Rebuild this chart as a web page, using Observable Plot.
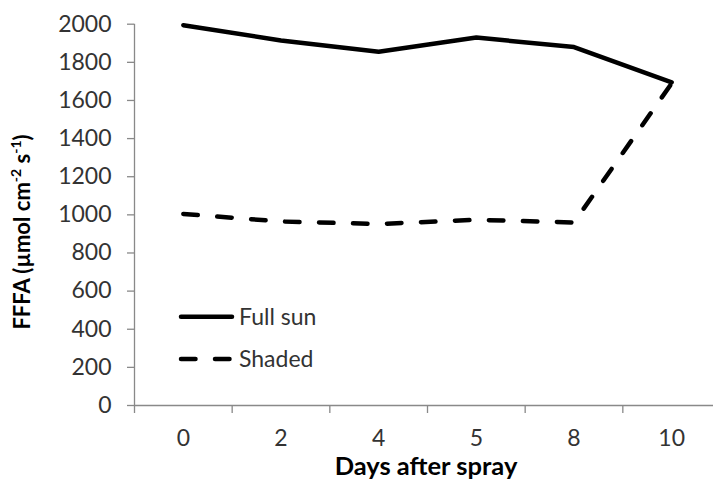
<!DOCTYPE html>
<html><head><meta charset="utf-8">
<script src="https://cdn.jsdelivr.net/npm/d3@7"></script>
<script src="https://cdn.jsdelivr.net/npm/@observablehq/plot@0.6"></script>
<style>
body{margin:0;background:#fff}
#chart{width:713px;height:486px;overflow:hidden;position:relative}
</style>
</head><body><div id="chart"></div>
<script>
const days = ["0", "2", "4", "5", "8", "10"];
const fullSun = [1995, 1915, 1855, 1930, 1880, 1695];
const shaded = [1005, 965, 952, 974, 960, 1690];
const yTicks = [0, 200, 400, 600, 800, 1000, 1200, 1400, 1600, 1800, 2000];
const seriesNames = ["Full sun", "Shaded"];

const idx = days.map((d, i) => i);
const bounds = [-0.5, ...idx.map(i => i + 0.5)];
const rowsSun = fullSun.map((v, i) => ({series: seriesNames[0], i, value: v}));
const rowsShade = shaded.map((v, i) => ({series: seriesNames[1], i, value: v}));

const axisColor = "#898989";
const textColor = "#333";
const FONT = "Lato";
const DASH = "14.5,19.5";

const plot = Plot.plot({
  width: 713, height: 486,
  marginLeft: 134, marginRight: 0, marginTop: 24, marginBottom: 81,
  style: {fontFamily: FONT, fontSize: "23px", background: "#fff", color: textColor},
  x: {domain: [-0.5, 5.5], range: [134, 720]},
  y: {domain: [0, 2000], range: [405, 23.7]},
  marks: [
    Plot.axisY({ticks: yTicks, tickSize: 7, tickPadding: 16, stroke: axisColor, fill: textColor, strokeWidth: 1.3, tickFormat: d => String(d), label: null}),
    Plot.axisX({ticks: bounds, tickSize: 8, stroke: axisColor, strokeWidth: 1.3, tickFormat: () => "", label: null}),
    Plot.axisX({ticks: idx, tickSize: 0, tickPadding: 24, tickFormat: i => days[i], fill: textColor, label: null}),
    Plot.ruleX([-0.5], {y1: 0, y2: 2000, stroke: axisColor, strokeWidth: 1.3}),
    Plot.ruleY([0], {x1: -0.5, x2: 5.5, stroke: axisColor, strokeWidth: 1.3}),
    Plot.line(rowsSun, {x: "i", y: "value", stroke: "#000", strokeWidth: 4.5, strokeLinecap: "round", strokeLinejoin: "round"}),
    Plot.line(rowsShade, {x: "i", y: "value", stroke: "#000", strokeWidth: 4.5, strokeLinecap: "round", strokeLinejoin: "round", strokeDasharray: DASH})
  ]
});
document.getElementById("chart").appendChild(plot);

const svg = d3.select(plot);
// Y axis title
const yt = svg.append("text")
  .attr("transform", "translate(30,232) rotate(-90)")
  .attr("text-anchor", "middle")
  .attr("font-family", FONT).attr("font-weight", "bold").attr("font-size", 22)
  .attr("fill", "#000");
yt.append("tspan").text("FFFA (µmol cm");
yt.append("tspan").text("-2").attr("font-size", 14).attr("dy", -9);
yt.append("tspan").text(" s").attr("dy", 9);
yt.append("tspan").text("-1").attr("font-size", 14).attr("dy", -9);
yt.append("tspan").text(")").attr("dy", 9);
// X axis title
svg.append("text")
  .attr("x", 426).attr("y", 475)
  .attr("text-anchor", "middle")
  .attr("font-family", FONT).attr("font-weight", "bold").attr("font-size", 25.5)
  .attr("fill", "#000").text("Days after spray");
// Legend
const leg = svg.append("g");
[[seriesNames[0], null, 316.7], [seriesNames[1], DASH, 359]].forEach(([name, dash, y]) => {
  const l = leg.append("line").attr("x1", 181).attr("x2", 232).attr("y1", y).attr("y2", y)
    .attr("stroke", "#000").attr("stroke-width", 4.5).attr("stroke-linecap", "round");
  if (dash) l.attr("stroke-dasharray", dash);
  leg.append("text").attr("x", 239).attr("y", y + 8.3).attr("text-anchor", "start")
    .attr("font-family", FONT).attr("font-size", 23).attr("fill", textColor).text(name);
});
</script>
</body></html>
